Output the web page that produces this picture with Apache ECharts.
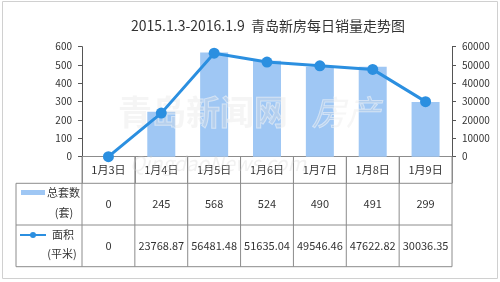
<!DOCTYPE html>
<html><head><meta charset="utf-8">
<script src="https://cdn.jsdelivr.net/npm/echarts@6/dist/echarts.min.js"></script>
<style>html,body{margin:0;padding:0;background:#fff}#c{width:500px;height:282px}</style>
</head><body><div id="c"></div>
<script>
var categories = ['1月3日','1月4日','1月5日','1月6日','1月7日','1月8日','1月9日'];
var unitsSold = [0, 245, 568, 524, 490, 491, 299];
var areaSold = [0, 23768.87, 56481.48, 51635.04, 49546.46, 47622.82, 30036.35];
var areaLabels = ['0','23768.87','56481.48','51635.04','49546.46','47622.82','30036.35'];
var leftTicks = [0, 100, 200, 300, 400, 500, 600];
var rightTicks = [0, 10000, 20000, 30000, 40000, 50000, 60000];

var BAR = '#9fc7f4', LINE = '#2b8fe0', GRID = '#8c8c8c', TXT = '#333';
var FONT = '"Noto Sans CJK SC", sans-serif';
var G = {left: 82, right: 48, top: 46.7, height: 110};
var chart = echarts.init(document.getElementById('c'), null, {renderer: 'canvas'});
var plain = function (v) { return String(v); };
var option = {
  animation: false,
  textStyle: {fontFamily: FONT},
  title: {text: '2015.1.3-2016.1.9  青岛新房每日销量走势图', left: 263, textAlign: 'center', top: 14,
    textStyle: {fontSize: 14, fontWeight: 'normal', color: TXT, fontFamily: FONT}},
  grid: G,
  xAxis: {type: 'category', data: categories, boundaryGap: true,
    axisLine: {lineStyle: {color: GRID, width: 1}},
    axisTick: {show: true, interval: 0, length: 26.6, lineStyle: {color: GRID}},
    axisLabel: {interval: 0, fontSize: 11, color: TXT, margin: 8}},
  yAxis: [
    {type: 'value', min: leftTicks[0], max: leftTicks[leftTicks.length-1], interval: 100,
     splitLine: {show: false},
     axisLine: {show: true, lineStyle: {color: '#555'}},
     axisTick: {show: true, length: 4, inside: false, lineStyle: {color: '#555'}},
     axisLabel: {fontSize: 10, color: TXT, margin: 10, formatter: plain}},
    {type: 'value', min: rightTicks[0], max: rightTicks[rightTicks.length-1], interval: 10000,
     splitLine: {show: false},
     axisLine: {show: true, lineStyle: {color: '#555'}},
     axisTick: {show: true, length: 4, lineStyle: {color: '#555'}},
     axisLabel: {fontSize: 10, color: TXT, margin: 10, formatter: plain}}
  ],
  series: [
    {name: '总套数', type: 'bar', data: unitsSold, barWidth: 28, itemStyle: {color: BAR}, z: 1},
    {name: '面积', type: 'line', yAxisIndex: 1, data: areaSold, symbol: 'circle', symbolSize: 11,
     lineStyle: {color: LINE, width: 3}, itemStyle: {color: LINE}, z: 5}
  ]
};
chart.setOption(option);

// table below chart, built from the arrays, positioned via axis scale
var axisY = chart.convertToPixel({yAxisIndex: 0}, 0);
var row1Top = 183.3, row2Top = 225, tableBottom = 266.7, tableLeft = 16;
var catW = chart.convertToPixel({xAxisIndex: 0}, 1) - chart.convertToPixel({xAxisIndex: 0}, 0);
var xRight = chart.convertToPixel({xAxisIndex: 0}, categories.length - 1) + catW / 2;
var els = [];
var ls = {stroke: GRID, lineWidth: 1};
[row1Top, row2Top, tableBottom].forEach(function (y) {
  els.push({type: 'line', shape: {x1: tableLeft, y1: y, x2: xRight, y2: y}, style: ls, silent: true});
});
els.push({type: 'line', shape: {x1: tableLeft, y1: row1Top, x2: tableLeft, y2: tableBottom}, style: ls});
for (var i = 0; i <= categories.length; i++) {
  var x = chart.convertToPixel({xAxisIndex: 0}, 0) - catW / 2 + i * catW;
  els.push({type: 'line', shape: {x1: x, y1: axisY, x2: x, y2: tableBottom}, style: ls});
}
var ts = function (t, x, y) {
  return {type: 'text', x: x, y: y, style: {text: t, fill: TXT, font: '11px ' + FONT, align: 'center', verticalAlign: 'middle'}};
};
categories.forEach(function (c, i) {
  var cx = chart.convertToPixel({xAxisIndex: 0}, i);
  els.push(ts(String(unitsSold[i]), cx, (row1Top + row2Top) / 2));
  els.push(ts(areaLabels[i], cx, (row2Top + tableBottom) / 2));
});
// legend cells
els.push({type: 'rect', shape: {x: 21, y: 190, width: 24, height: 5}, style: {fill: BAR}});
els.push({type: 'text', x: 80, y: 193, style: {text: '总套数', fill: TXT, font: '11px ' + FONT, align: 'right', verticalAlign: 'middle'}});
els.push(ts('(套)', 64, 213));
els.push({type: 'line', shape: {x1: 20, y1: 235, x2: 46, y2: 235}, style: {stroke: LINE, lineWidth: 2}});
els.push({type: 'circle', shape: {cx: 33, cy: 235, r: 3}, style: {fill: LINE}});
els.push(ts('面积', 63, 235));
els.push(ts('(平米)', 62, 254));
// outer frame
els.push({type: 'rect', shape: {x: 2.5, y: 1.5, width: 495, height: 277}, style: {fill: 'none', stroke: '#d0d0d0', lineWidth: 1}});
// watermark
els.push({type: 'text', x: 118, y: 95, z: 3, silent: true, style: {text: '青岛新闻网', fill: 'rgba(225,225,225,0.35)', stroke: 'rgba(255,255,255,0.5)', lineWidth: 1, font: 'bold 34px ' + FONT}});
els.push({type: 'text', x: 312, y: 95, z: 3, silent: true, style: {text: '房产', fill: 'rgba(225,225,225,0.3)', stroke: 'rgba(255,255,255,0.5)', lineWidth: 1, font: 'italic 34px ' + FONT}});
els.push({type: 'text', x: 130, y: 153, z: 3, silent: true, style: {text: 'QingdaoNews.com', fill: 'rgba(210,210,210,0.3)', font: 'italic 20px ' + FONT}});
chart.setOption({graphic: {elements: els}});
</script></body></html>
